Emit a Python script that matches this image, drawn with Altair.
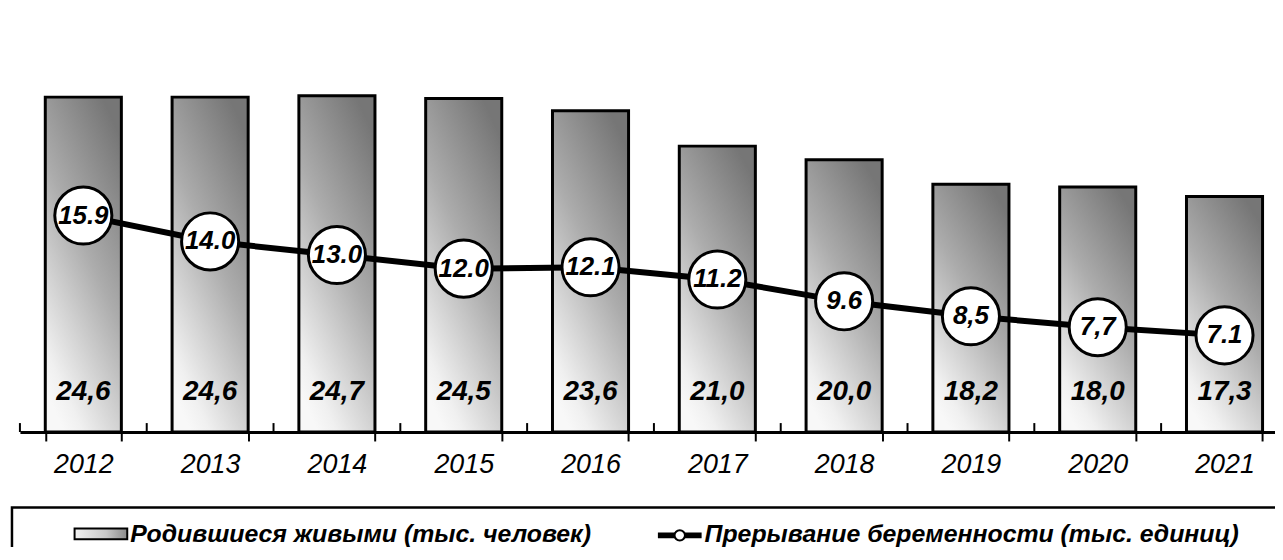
import altair as alt
import pandas as pd

years = ["2012", "2013", "2014", "2015", "2016", "2017", "2018", "2019", "2020", "2021"]
births = [24.6, 24.6, 24.7, 24.5, 23.6, 21.0, 20.0, 18.2, 18.0, 17.3]
birth_labels = ["24,6", "24,6", "24,7", "24,5", "23,6", "21,0", "20,0", "18,2", "18,0", "17,3"]
abortions = [15.9, 14.0, 13.0, 12.0, 12.1, 11.2, 9.6, 8.5, 7.7, 7.1]
abortion_labels = ["15.9", "14.0", "13.0", "12.0", "12.1", "11.2", "9.6", "8,5", "7,7", "7.1"]
legend_names = ["Родившиеся живыми (тыс. человек)", "Прерывание беременности (тыс. единиц)"]

df = pd.DataFrame({
    "year": years,
    "births": births,
    "birth_label": birth_labels,
    "abortions": abortions,
    "abortion_label": abortion_labels,
})

W = 1263
H = 411
STEP = 127.6
FONT = "Liberation Sans"

xscale = alt.Scale(domain=years, paddingInner=0.4, paddingOuter=0.2, range=[0, STEP * 10])
yscale = alt.Scale(domain=[0, 30], nice=False, zero=True)
yaxis = alt.Axis(labels=False, domain=False, ticks=False, grid=False, title=None)

xenc = alt.X(
    "year:N",
    scale=xscale,
    sort=years,
    axis=alt.Axis(
        title=None,
        labelAngle=0,
        labelFont=FONT,
        labelFontStyle="italic",
        labelFontSize=27,
        labelColor="black",
        labelPadding=11,
        domainColor="black",
        domainWidth=3,
        tickColor="black",
        tickWidth=2,
        tickSize=9,
        tickBand="extent",
        grid=False,
    ),
)

bar_gradient = alt.Gradient(
    gradient="linear",
    stops=[
        alt.GradientStop(color="#767676", offset=0),
        alt.GradientStop(color="#8e8e8e", offset=0.2),
        alt.GradientStop(color="#acacac", offset=0.45),
        alt.GradientStop(color="#d2d2d2", offset=0.7),
        alt.GradientStop(color="#f0f0f0", offset=0.9),
        alt.GradientStop(color="#f8f8f8", offset=1),
    ],
    x1=0.75, x2=0.25, y1=0, y2=1,
)

base = alt.Chart(df)

bars = base.mark_bar(fill=bar_gradient, stroke="black", strokeWidth=3).encode(
    x=xenc,
    y=alt.Y("births:Q", scale=yscale, axis=yaxis),
)

up_ticks = base.mark_rule(color="black", strokeWidth=2, xOffset=-STEP / 2).encode(
    x=alt.X("year:N", sort=years),
    y=alt.value(H),
    y2=alt.value(H - 9),
)

bar_text = base.mark_text(
    font=FONT, fontSize=28, fontWeight="bold", fontStyle="italic",
    color="black", baseline="alphabetic", dy=-32,
).encode(
    x=alt.X("year:N", sort=years),
    y=alt.datum(0),
    text="birth_label:N",
)

line = base.mark_line(color="black", strokeWidth=6).encode(
    x=alt.X("year:N", sort=years),
    y=alt.Y("abortions:Q", scale=yscale, axis=yaxis),
)

points = base.mark_point(
    shape="circle", size=3300, filled=True, fill="white", stroke="black", strokeWidth=3, opacity=1
).encode(
    x=alt.X("year:N", sort=years),
    y=alt.Y("abortions:Q", scale=yscale, axis=yaxis),
)

point_text = base.mark_text(
    font=FONT, fontSize=26, fontWeight="bold", fontStyle="italic",
    color="black", baseline="middle",
).encode(
    x=alt.X("year:N", sort=years),
    y=alt.Y("abortions:Q", scale=yscale, axis=yaxis),
    text="abortion_label:N",
)

# Legend (drawn manually to mimic the boxed legend)
one = pd.DataFrame({"a": [0]})
leg_box = alt.Chart(one).mark_rect(fill="white", stroke="black", strokeWidth=2.5).encode(
    x=alt.value(-8), x2=alt.value(1300), y=alt.value(487), y2=alt.value(620)
)
swatch_grad = alt.Gradient(
    gradient="linear",
    stops=[
        alt.GradientStop(color="#f2f2f2", offset=0),
        alt.GradientStop(color="#c8c8c8", offset=0.6),
        alt.GradientStop(color="#8a8a8a", offset=1),
    ],
    x1=0, x2=1, y1=0, y2=0,
)
leg_swatch = alt.Chart(one).mark_rect(fill=swatch_grad, stroke="black", strokeWidth=2).encode(
    x=alt.value(55), x2=alt.value(108), y=alt.value(508), y2=alt.value(519)
)
leg_df1 = pd.DataFrame({"name": [legend_names[0]]})
leg_df2 = pd.DataFrame({"name": [legend_names[1]]})
leg_text1 = alt.Chart(leg_df1).mark_text(
    font=FONT, fontSize=25, fontStyle="italic", fontWeight="bold", align="left",
    baseline="alphabetic", color="black",
).encode(x=alt.value(111), y=alt.value(522), text="name:N")
leg_line = alt.Chart(one).mark_rule(color="black", strokeWidth=6).encode(
    x=alt.value(642), x2=alt.value(686), y=alt.value(515)
)
leg_circle = alt.Chart(one).mark_point(
    shape="circle", size=110, filled=True, fill="white", stroke="black", strokeWidth=2, opacity=1
).encode(x=alt.value(664), y=alt.value(515))
leg_text2 = alt.Chart(leg_df2).mark_text(
    font=FONT, fontSize=25, fontStyle="italic", fontWeight="bold", align="left",
    baseline="alphabetic", color="black",
).encode(x=alt.value(689), y=alt.value(522), text="name:N")

chart = alt.layer(
    bars, up_ticks, bar_text, line, points, point_text,
    leg_box, leg_swatch, leg_text1, leg_line, leg_circle, leg_text2,
).properties(
    width=W,
    height=H,
    autosize="none",
    background="white",
    padding={"left": 12, "top": 14, "right": 0, "bottom": 114},
).configure_view(stroke=None)

chart.save("out.html", embed_options={"renderer": "svg", "actions": False})
